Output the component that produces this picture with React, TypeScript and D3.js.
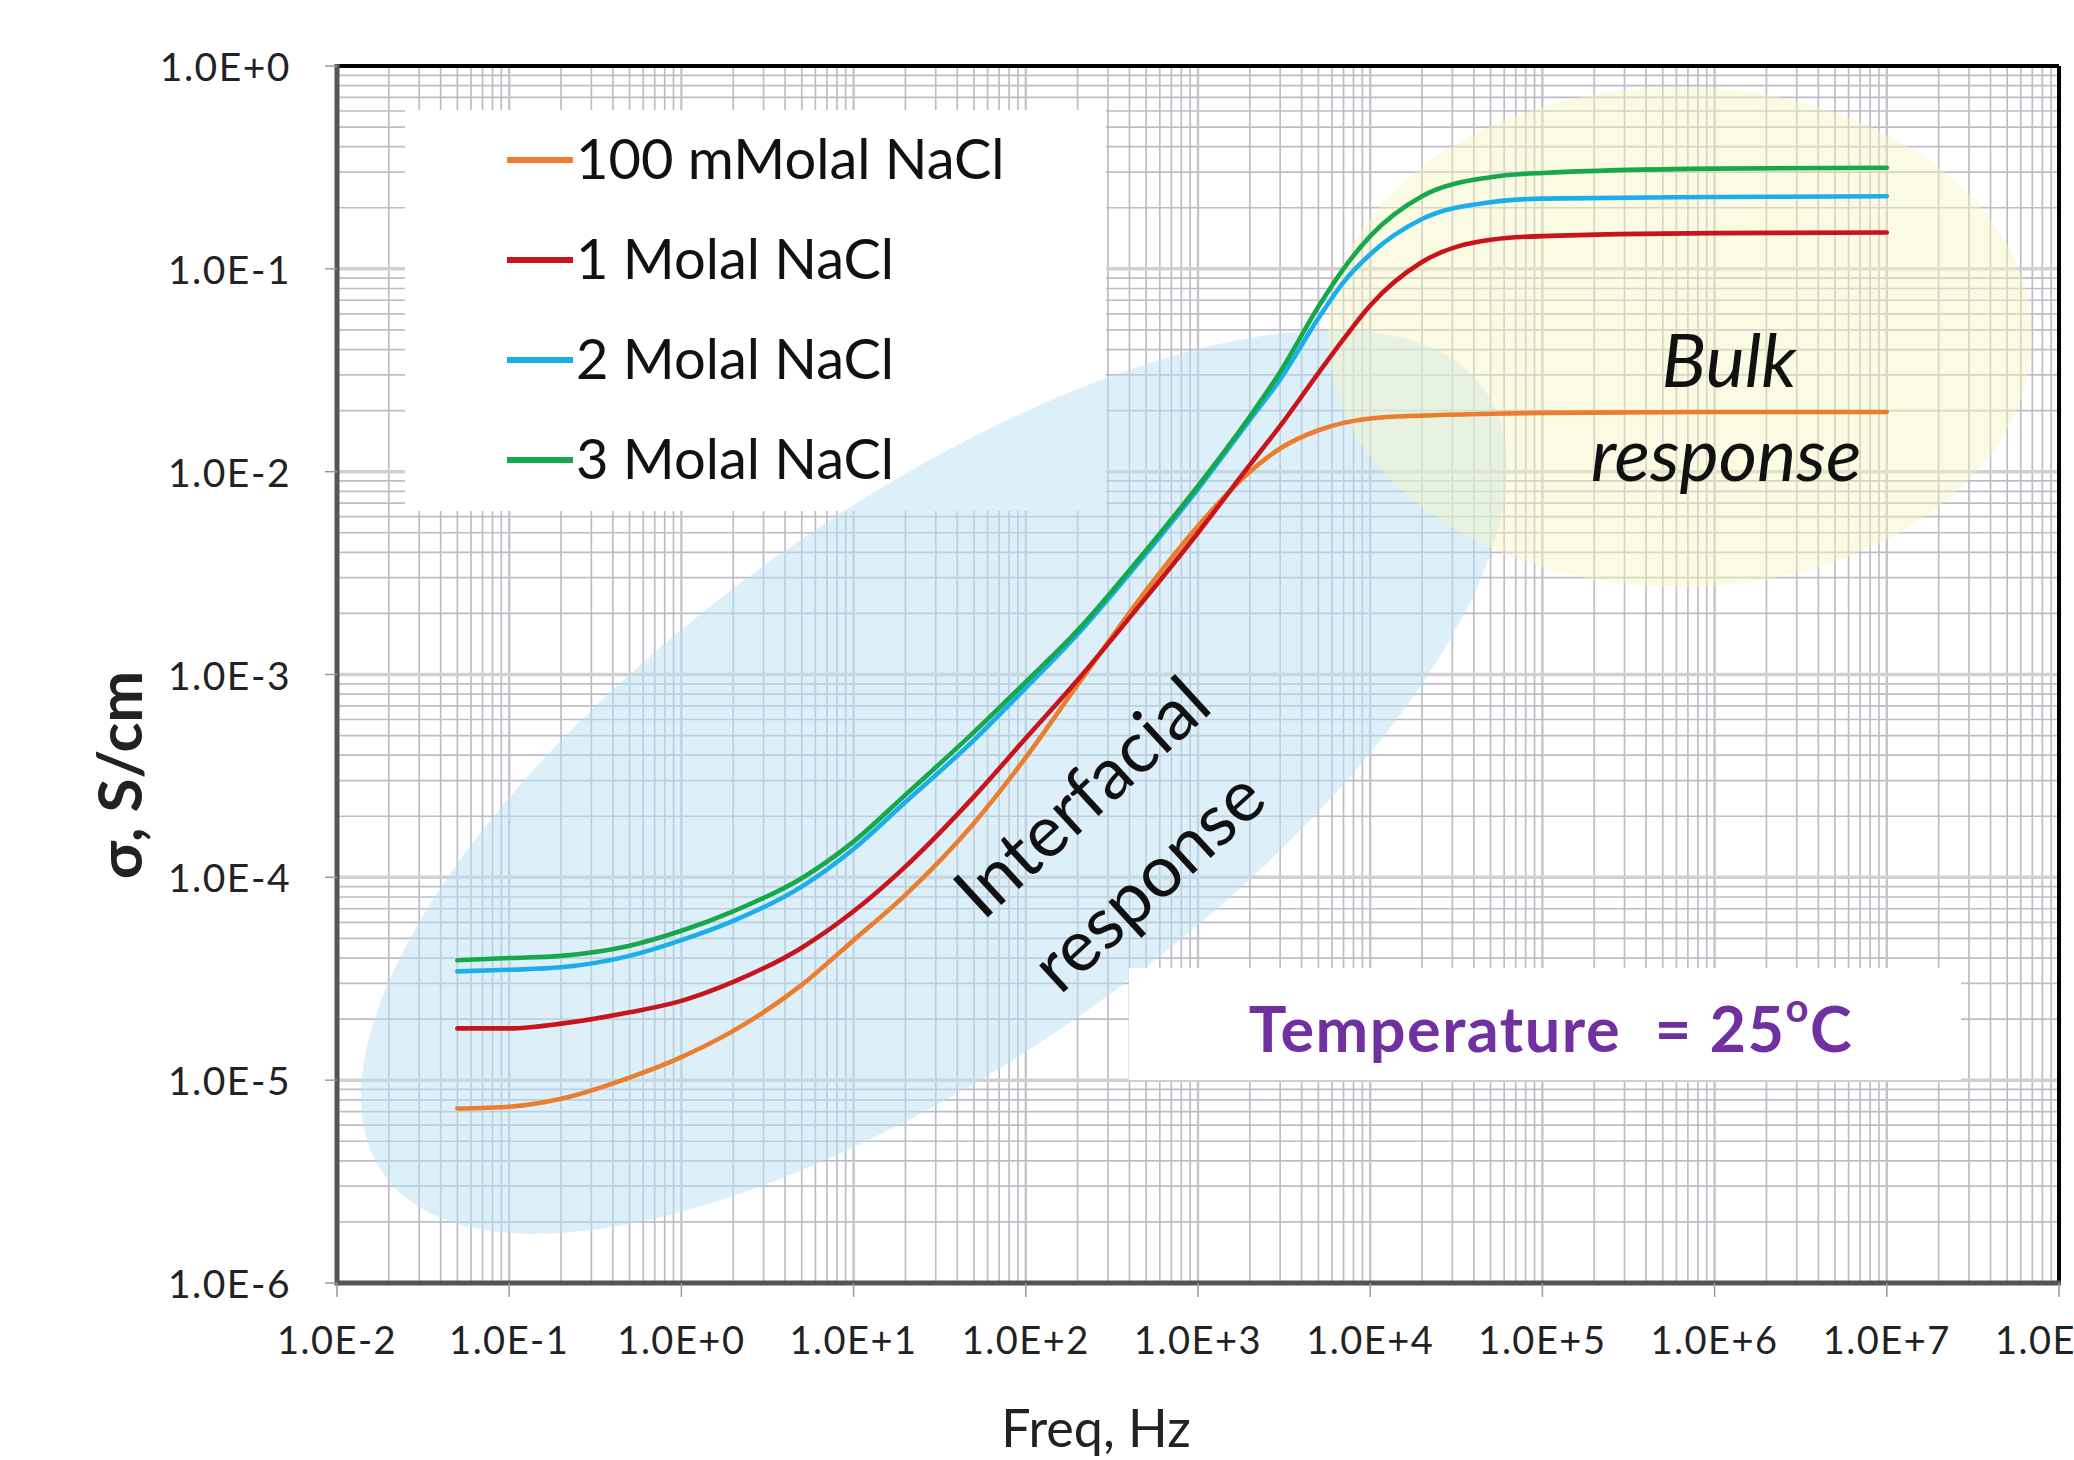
import React from "react";
import * as d3 from "d3";

// ---------- data ----------
const FREQ_HZ = [0.05, 0.1, 0.2, 0.5, 1, 2, 5, 10, 20, 50, 100, 200, 500, 1000, 2000, 3000, 5000, 7000, 1e4, 2e4, 5e4, 1e5, 1e6, 1e7];

const SIGMA_100MMOLAL = [7.25e-6, 7.4e-6, 8.1e-6, 1.03e-5, 1.3e-5, 1.75e-5, 2.95e-5, 4.9e-5, 8.2e-5, 1.85e-4, 3.9e-4, 8.9e-4, 2.6e-3, 5.4e-3, 1.0e-2, 1.3e-2, 1.6e-2, 1.74e-2, 1.83e-2, 1.89e-2, 1.93e-2, 1.95e-2, 1.97e-2, 1.97e-2];
const SIGMA_1MOLAL = [1.8e-5, 1.8e-5, 1.9e-5, 2.16e-5, 2.46e-5, 3.05e-5, 4.5e-5, 6.8e-5, 1.13e-4, 2.5e-4, 4.85e-4, 9.4e-4, 2.4e-3, 5.0e-3, 1.08e-2, 1.68e-2, 3.06e-2, 4.5e-2, 6.6e-2, 1.08e-1, 1.39e-1, 1.45e-1, 1.5e-1, 1.51e-1];
const SIGMA_2MOLAL = [3.44e-5, 3.5e-5, 3.6e-5, 4.1e-5, 4.9e-5, 6.1e-5, 9.0e-5, 1.38e-4, 2.35e-4, 4.75e-4, 8.6e-4, 1.58e-3, 3.95e-3, 8.2e-3, 1.8e-2, 2.85e-2, 5.7e-2, 8.6e-2, 1.18e-1, 1.76e-1, 2.13e-1, 2.22e-1, 2.26e-1, 2.28e-1];
const SIGMA_3MOLAL = [3.9e-5, 4.0e-5, 4.1e-5, 4.6e-5, 5.45e-5, 6.8e-5, 9.9e-5, 1.5e-4, 2.55e-4, 5.2e-4, 9.2e-4, 1.65e-3, 4.1e-3, 8.5e-3, 1.87e-2, 3.1e-2, 6.5e-2, 1.0e-1, 1.45e-1, 2.28e-1, 2.83e-1, 2.97e-1, 3.12e-1, 3.15e-1];

const SERIES_NAMES = ["100 mMolal NaCl", "1 Molal NaCl", "2 Molal NaCl", "3 Molal NaCl"];
const SERIES_VALUES = [SIGMA_100MMOLAL, SIGMA_1MOLAL, SIGMA_2MOLAL, SIGMA_3MOLAL];

const X_TICK_EXPONENTS = [-2, -1, 0, 1, 2, 3, 4, 5, 6, 7, 8];
const Y_TICK_EXPONENTS = [-6, -5, -4, -3, -2, -1, 0];

const X_TITLE = "Freq, Hz";
const Y_TITLE = "σ, S/cm";
const TEMP_LABEL = "Temperature  = 25";

// ---------- styles ----------
const SERIES_COLORS = ["#EA7E2E", "#C8141B", "#1BAEEB", "#17A84B"];
const FONT = "Lato, 'Open Sans', 'DejaVu Sans', sans-serif";

const W = 2074;
const H = 1460;
const PLOT = { left: 337, right: 2059, top: 66, bottom: 1283 };

function fmtExp(e: number): string {
  return "1.0E" + (e >= 0 ? "+" + e : String(e));
}

export default function App() {
  const x = d3.scaleLog().domain([1e-2, 1e8]).range([PLOT.left, PLOT.right]);
  const y = d3.scaleLog().domain([1e-6, 1]).range([PLOT.bottom, PLOT.top]);

  const minorX: number[] = [];
  for (let e = -2; e < 8; e++) for (let k = 2; k <= 9; k++) minorX.push(k * Math.pow(10, e));
  const minorY: number[] = [];
  for (let e = -6; e < 0; e++) for (let k = 2; k <= 9; k++) minorY.push(k * Math.pow(10, e));

  const line = d3
    .line<[number, number]>()
    .x((d) => x(d[0]))
    .y((d) => y(d[1]))
    .curve(d3.curveMonotoneX);

  const legendRows = [157, 257, 357, 457];

  return (
    <svg
      width={W}
      height={H}
      style={{ position: "absolute", left: 0, top: 0, background: "#fff" }}
      fontFamily={FONT}
    >
      <rect x={0} y={0} width={W} height={H} fill="#ffffff" />

      {/* grid */}
      <g>
        {minorX.map((v, i) => (
          <line key={"mx" + i} x1={x(v)} x2={x(v)} y1={PLOT.top} y2={PLOT.bottom} stroke="#BDBDC6" strokeWidth={1.7} />
        ))}
        {minorY.map((v, i) => (
          <line key={"my" + i} x1={PLOT.left} x2={PLOT.right} y1={y(v)} y2={y(v)} stroke="#BDBDC6" strokeWidth={1.7} />
        ))}
        {X_TICK_EXPONENTS.map((e) => (
          <line key={"Mx" + e} x1={x(Math.pow(10, e))} x2={x(Math.pow(10, e))} y1={PLOT.top} y2={PLOT.bottom} stroke="#C4C4CA" strokeWidth={2.4} />
        ))}
        {Y_TICK_EXPONENTS.map((e) => (
          <line key={"My" + e} x1={PLOT.left} x2={PLOT.right} y1={y(Math.pow(10, e))} y2={y(Math.pow(10, e))} stroke="#D0D0D0" strokeWidth={3.5} />
        ))}
      </g>

      {/* legend background */}
      <rect x={405} y={110} width={701} height={401} fill="#ffffff" />

      {/* highlighted regions */}
      <ellipse cx={934} cy={782} rx={676} ry={275} transform="rotate(-35.5 934 782)" fill="#BCE2F5" opacity={0.5} />
      <ellipse cx={1680} cy={337} rx={352} ry={250} fill="#F7F3C0" opacity={0.45} />

      {/* temperature box */}
      <rect x={1129} y={968} width={832} height={112} fill="#ffffff" />

      {/* series */}
      {SERIES_VALUES.map((vals, si) => (
        <path
          key={"s" + si}
          d={line(FREQ_HZ.map((f, i) => [f, vals[i]] as [number, number])) || ""}
          fill="none"
          stroke={SERIES_COLORS[si]}
          strokeWidth={4.6}
          strokeLinecap="round"
          strokeLinejoin="round"
        />
      ))}

      {/* frame */}
      <line x1={PLOT.left} x2={PLOT.right} y1={PLOT.top} y2={PLOT.top} stroke="#000" strokeWidth={4} />
      <line x1={PLOT.right} x2={PLOT.right} y1={PLOT.top} y2={PLOT.bottom} stroke="#000" strokeWidth={4} />
      <line x1={PLOT.left} x2={PLOT.left} y1={PLOT.top - 2} y2={PLOT.bottom + 2} stroke="#555" strokeWidth={5} />
      <line x1={PLOT.left - 2} x2={PLOT.right + 2} y1={PLOT.bottom} y2={PLOT.bottom} stroke="#555" strokeWidth={5} />

      {/* ticks + labels */}
      {Y_TICK_EXPONENTS.map((e) => {
        const yy = y(Math.pow(10, e));
        return (
          <g key={"yt" + e}>
            <line x1={PLOT.left - 12} x2={PLOT.left} y1={yy} y2={yy} stroke="#999" strokeWidth={1.5} />
            <text x={291} y={yy} textAnchor="end" dominantBaseline="central" fontSize={39} letterSpacing={1.5} fill="#222">
              {fmtExp(e)}
            </text>
          </g>
        );
      })}
      {X_TICK_EXPONENTS.map((e) => {
        const xx = x(Math.pow(10, e));
        return (
          <g key={"xt" + e}>
            <line x1={xx} x2={xx} y1={PLOT.bottom} y2={PLOT.bottom + 14} stroke="#999" strokeWidth={1.5} />
            <text x={xx} y={1339} textAnchor="middle" dominantBaseline="central" fontSize={38} letterSpacing={1.5} fill="#222">
              {fmtExp(e)}
            </text>
          </g>
        );
      })}

      {/* axis titles */}
      <text x={1096} y={1447} textAnchor="middle" fontSize={52} fill="#222">
        {X_TITLE}
      </text>
      <text
        transform="translate(142 775) rotate(-90)"
        textAnchor="middle"
        fontSize={62}
        fontWeight="bold"
        fill="#222"
      >
        {Y_TITLE}
      </text>

      {/* legend */}
      {SERIES_NAMES.map((name, i) => (
        <g key={"lg" + i}>
          <line x1={507} x2={573} y1={legendRows[i] + 3} y2={legendRows[i] + 3} stroke={SERIES_COLORS[i]} strokeWidth={6} />
          <text x={576} y={legendRows[i]} dominantBaseline="central" fontSize={56} fill="#111">
            {name}
          </text>
        </g>
      ))}

      {/* annotations */}
      <text x={1729} y={358} textAnchor="middle" dominantBaseline="central" fontSize={74} fontStyle="italic" fill="#111">
        Bulk
      </text>
      <text x={1726} y={452} textAnchor="middle" dominantBaseline="central" fontSize={74} fontStyle="italic" fill="#111">
        response
      </text>
      <text
        transform="translate(1080 795) rotate(-42.5)"
        textAnchor="middle"
        dominantBaseline="central"
        fontSize={72}
        fill="#111"
      >
        Interfacial
      </text>
      <text
        transform="translate(1146 879) rotate(-42.5)"
        textAnchor="middle"
        dominantBaseline="central"
        fontSize={72}
        fill="#111"
      >
        response
      </text>
      <text
        x={1551}
        y={1027}
        textAnchor="middle"
        dominantBaseline="central"
        fontSize={63}
        fontWeight="bold"
        letterSpacing={1.5}
        fill="#7030A0"
        xmlSpace="preserve"
        style={{ whiteSpace: "pre" }}
      >
        {TEMP_LABEL}
        <tspan fontSize={40} dy={-20}>o</tspan>
        <tspan dy={20}>C</tspan>
      </text>
    </svg>
  );
}
